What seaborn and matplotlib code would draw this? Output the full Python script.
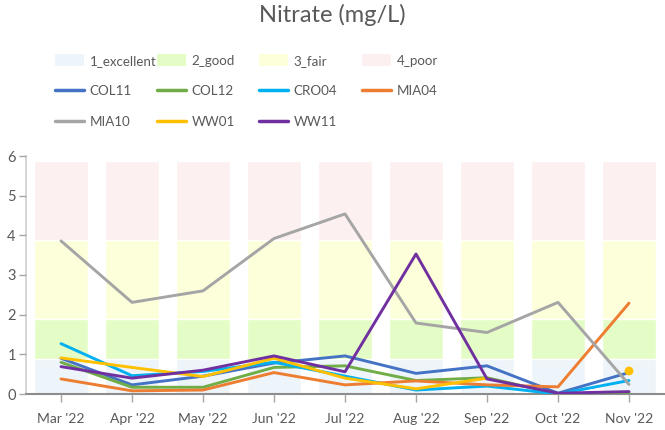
import numpy as np
import pandas as pd
import matplotlib
matplotlib.use('Agg')
import matplotlib.pyplot as plt
from matplotlib.patches import Patch
from matplotlib.lines import Line2D
import seaborn as sns

# ── Data ────────────────────────────────────────────────────────────────────
months = ["Mar '22", "Apr '22", "May '22", "Jun '22", "Jul '22",
          "Aug '22", "Sep '22", "Oct '22", "Nov '22"]

band_names   = ['1_excellent', '2_good', '3_fair', '4_poor']
band_heights = [0.88, 1.0, 2.0, 2.0]          # stacked, per month
band_colors  = ['#EDF5FA', '#E4FDC6', '#FDFFDB', '#FDF0F0']

col11 = [0.90, 0.23, 0.45, 0.78, 0.96, 0.52, 0.71, 0.02, 0.54]
col12 = [0.80, 0.17, 0.17, 0.67, 0.71, 0.34, 0.41, 0.00, 0.03]
cro04 = [1.27, 0.46, 0.57, 0.80, 0.45, 0.10, 0.20, 0.00, 0.34]
mia04 = [0.38, 0.08, 0.10, 0.54, 0.23, 0.33, 0.23, 0.18, 2.29]
mia10 = [3.86, 2.31, 2.60, 3.92, 4.54, 1.79, 1.55, 2.31, 0.24]
ww01  = [0.91, 0.67, 0.44, 0.90, 0.40, 0.13, 0.40, np.nan, 0.58]
ww11  = [0.69, 0.40, 0.60, 0.96, 0.56, 3.53, 0.38, 0.02, 0.06]

series_names  = ['COL11', 'COL12', 'CRO04', 'MIA04', 'MIA10', 'WW01', 'WW11']
series_vals   = [col11, col12, cro04, mia04, mia10, ww01, ww11]
series_colors = ['#4472C4', '#70AD47', '#00B0F0', '#ED7D31', '#A5A5A5', '#FFC000', '#7030A0']

TXT = '#595959'
AX  = '#A6A6A6'

sns.set_theme(style='white')
plt.rcParams['font.family'] = ['Lato', 'DejaVu Sans']

fig = plt.figure(figsize=(6.65, 4.3), dpi=100)
ax = fig.add_axes([25.5 / 665, 1 - 394 / 430, 639 / 665, 238 / 430])

# ── Quality bands: cumulative bars, tallest first so lower bands sit on top ─
x = np.arange(len(months))
cum = np.cumsum(band_heights)
for i in range(len(band_names) - 1, -1, -1):
    band_df = pd.DataFrame({'x': x, 'y': np.full(len(x), cum[i])})
    sns.barplot(data=band_df, x='x', y='y', color=band_colors[i], saturation=1,
                width=0.77, native_scale=True, ax=ax, zorder=1)

# ── Station lines ───────────────────────────────────────────────────────────
for name, vals, c in zip(series_names, series_vals, series_colors):
    df = pd.DataFrame({'x': x, 'y': vals})
    # split on gaps so missing months are not bridged
    grp = df['y'].isna().cumsum()
    for _, seg in df.dropna().groupby(grp[df['y'].notna()]):
        if len(seg) > 1:
            sns.lineplot(data=seg, x='x', y='y', color=c, linewidth=2.1, ax=ax,
                         zorder=3)
        else:
            sns.scatterplot(data=seg, x='x', y='y', color=c, s=40, ax=ax,
                            edgecolor='none', zorder=3)

# ── Axes styling ────────────────────────────────────────────────────────────
ax.set_xlim(-0.5, len(months) - 0.5)
ax.set_ylim(0, 6)
ax.set_xticks(x)
ax.set_xticklabels(months)
ax.set_yticks(range(7))
ax.set_xlabel('')
ax.set_ylabel('')
for s in ['top', 'right']:
    ax.spines[s].set_visible(False)
ax.spines['left'].set_color('#D0D0D0')
ax.spines['bottom'].set_color('#8C8C8C')
ax.spines['bottom'].set_linewidth(1.5)
ax.tick_params(axis='x', colors=AX, length=6, width=1, labelcolor=TXT,
               labelsize=10, direction='out', pad=8, bottom=True)
ax.tick_params(axis='y', colors=AX, length=5, width=1, labelcolor=TXT,
               labelsize=10.5, direction='out', pad=2, left=True)
ax.set_axisbelow(False)

fig.suptitle('Nitrate (mg/L)', x=0.5, y=0.992, fontsize=17, color=TXT)

# ── Legend: four columns placed by hand ─────────────────────────────────────
patches = [Patch(facecolor=c, edgecolor='none', label=n) for n, c in zip(band_names, band_colors)]
lines = [Line2D([0], [0], color=c, lw=2.5, label=n) for n, c in zip(series_names, series_colors)]
cols = [[patches[0], lines[0], lines[4]],
        [patches[1], lines[1], lines[5]],
        [patches[2], lines[2], lines[6]],
        [patches[3], lines[3]]]
col_x = [55, 157, 259, 362]
for hs, cx in zip(cols, col_x):
    leg = fig.legend(handles=hs, loc='upper left', bbox_to_anchor=(cx / 665, 1 - 54 / 430),
                     frameon=False, fontsize=9.6, handlelength=2.2, handleheight=1.05,
                     handletextpad=0.4, labelspacing=1.35, borderpad=0, borderaxespad=0)
    for t in leg.get_texts():
        t.set_color(TXT)

fig.savefig('out.png', dpi=100)
